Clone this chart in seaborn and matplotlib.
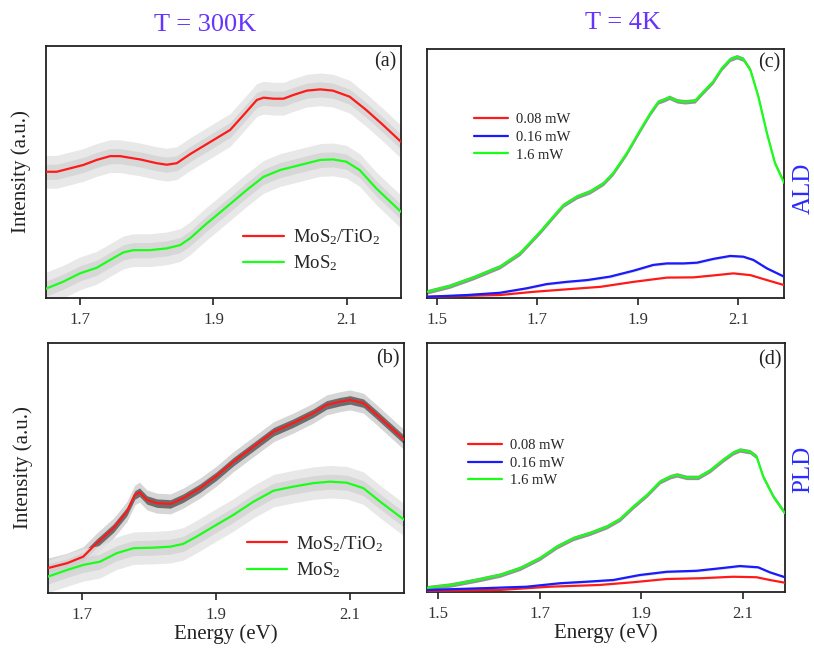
import numpy as np
import pandas as pd
import matplotlib
matplotlib.use("Agg")
import matplotlib.pyplot as plt
import seaborn as sns

# ---------------- data: photoluminescence spectra (energy in eV, intensity in a.u.) ----------------
# (a) T = 300K, ALD
a_tio2_E = [1.649, 1.665, 1.705, 1.725, 1.745, 1.760, 1.790, 1.815, 1.830, 1.845, 1.865, 1.900,
            1.925, 1.945, 1.965, 1.975, 1.990, 2.005, 2.020, 2.040, 2.060, 2.079, 2.104, 2.129,
            2.154, 2.181]
a_tio2_I = [50.1, 50.1, 52.8, 54.8, 56.3, 56.3, 55.0, 53.5, 52.9, 53.5, 57.1, 62.7,
            66.7, 72.6, 78.6, 79.5, 79.1, 79.1, 80.6, 82.3, 82.8, 82.3, 79.9, 74.6,
            68.7, 62.0]
a_mos2_E = [1.649, 1.675, 1.700, 1.725, 1.745, 1.765, 1.780, 1.805, 1.830, 1.850, 1.865, 1.890,
            1.920, 1.950, 1.975, 2.000, 2.030, 2.060, 2.079, 2.099, 2.119, 2.144, 2.181]
a_mos2_I = [3.7, 6.5, 9.8, 12.0, 15.1, 18.1, 19.0, 19.0, 19.7, 21.0, 23.7, 29.6,
            36.2, 42.9, 48.1, 50.8, 52.8, 54.8, 55.0, 54.1, 50.8, 43.5, 34.2]

# (b) T = 300K, PLD
b_tio2_E = [1.649, 1.678, 1.702, 1.722, 1.747, 1.767, 1.779, 1.786, 1.797, 1.812, 1.832, 1.851,
            1.876, 1.901, 1.926, 1.956, 1.986, 2.015, 2.045, 2.065, 2.085, 2.100, 2.120, 2.140,
            2.181]
b_tio2_I = [9.8, 11.8, 14.4, 19.8, 25.8, 32.4, 39.1, 40.2, 37.1, 35.8, 35.5, 37.8,
            41.8, 46.7, 52.4, 58.4, 64.4, 67.8, 71.8, 75.1, 76.4, 77.1, 75.8, 71.1,
            61.1]
b_mos2_E = [1.649, 1.678, 1.702, 1.727, 1.752, 1.777, 1.806, 1.832, 1.851, 1.871, 1.896, 1.926,
            1.956, 1.986, 2.015, 2.045, 2.070, 2.095, 2.120, 2.145, 2.181]
b_mos2_I = [6.4, 9.1, 11.1, 12.4, 15.8, 17.8, 18.0, 18.4, 19.5, 22.4, 26.4, 31.1,
            36.4, 40.8, 42.4, 43.8, 44.4, 44.0, 41.8, 36.4, 29.1]

# (c) T = 4K, ALD, three excitation powers
c_hi_E = [1.481, 1.526, 1.573, 1.626, 1.666, 1.706, 1.732, 1.752, 1.779, 1.805, 1.832, 1.851,
          1.878, 1.905, 1.925, 1.941, 1.951, 1.963, 1.978, 1.994, 2.014, 2.031, 2.050, 2.067,
          2.084, 2.097, 2.110, 2.124, 2.140, 2.157, 2.173, 2.191]
c_hi_I = [2.5, 4.8, 8.2, 12.6, 18.0, 26.6, 32.7, 37.3, 40.7, 42.7, 46.1, 50.1,
          58.1, 67.5, 74.2, 78.8, 79.5, 80.6, 79.2, 78.8, 79.2, 82.9, 86.9, 92.2,
          95.9, 96.9, 95.9, 91.6, 80.8, 66.1, 54.1, 46.3]
c_mid_E = [1.481, 1.560, 1.626, 1.679, 1.719, 1.759, 1.799, 1.845, 1.892, 1.931, 1.958, 1.991,
           2.018, 2.050, 2.084, 2.110, 2.130, 2.157, 2.191]
c_mid_I = [0.5, 1.2, 2.1, 3.9, 5.6, 6.5, 7.2, 8.6, 11.0, 13.3, 13.9, 13.9,
           14.2, 15.7, 16.9, 16.6, 15.3, 11.9, 8.6]
c_lo_E = [1.481, 1.626, 1.693, 1.759, 1.826, 1.892, 1.958, 2.011, 2.057, 2.090, 2.124, 2.157, 2.191]
c_lo_I = [0.5, 1.2, 2.5, 3.5, 4.5, 6.5, 8.2, 8.3, 9.2, 9.9, 9.2, 7.2, 5.2]

# (d) T = 4K, PLD, three excitation powers
d_hi_E = [1.478, 1.524, 1.576, 1.622, 1.661, 1.700, 1.734, 1.766, 1.799, 1.832, 1.858, 1.884,
          1.911, 1.937, 1.957, 1.970, 1.989, 2.012, 2.035, 2.061, 2.081, 2.094, 2.114, 2.127,
          2.140, 2.160, 2.183]
d_hi_I = [1.6, 2.7, 4.7, 6.7, 9.4, 13.4, 18.1, 21.4, 23.5, 26.1, 29.1, 34.1,
          38.8, 44.2, 46.2, 46.9, 45.9, 45.9, 48.6, 52.9, 55.8, 56.9, 56.2, 54.2,
          46.2, 38.2, 31.5]
d_mid_E = [1.478, 1.589, 1.674, 1.740, 1.792, 1.845, 1.897, 1.950, 2.009, 2.055, 2.094, 2.130,
           2.153, 2.183]
d_mid_I = [0.7, 1.4, 2.0, 3.4, 4.0, 4.7, 6.7, 8.0, 8.4, 9.4, 10.3, 9.8, 7.8, 5.8]
d_lo_E = [1.478, 1.622, 1.720, 1.818, 1.884, 1.950, 2.016, 2.081, 2.127, 2.153, 2.183]
d_lo_I = [0.4, 0.7, 2.0, 2.7, 3.8, 5.1, 5.4, 6.0, 5.8, 4.7, 3.6]

sample_labels = [r"MoS$_2$/TiO$_2$", r"MoS$_2$"]
power_labels = ["0.08 mW", "0.16 mW", "1.6 mW"]
energy_ticks = [1.5, 1.7, 1.9, 2.1]

# ---------------- style ----------------
sns.set_style("ticks")
plt.rcParams["font.family"] = ["Liberation Serif", "DejaVu Serif"]
plt.rcParams["mathtext.fontset"] = "custom"
plt.rcParams["mathtext.rm"] = "Liberation Serif"
plt.rcParams["mathtext.it"] = "Liberation Serif"
plt.rcParams["lines.solid_joinstyle"] = "round"
plt.rcParams["lines.solid_capstyle"] = "round"

RED, GREEN, BLUE = "#ff1a1a", "#1aff1a", "#1a1aff"
TITLE_C = "#6633ff"
SIDE_C = "#2b2bff"

fig = plt.figure(figsize=(8.14, 6.5), dpi=100)
axes = {
    "a": fig.add_axes([0.0565, 0.5415, 0.4361, 0.3877]),
    "b": fig.add_axes([0.0586, 0.0882, 0.4381, 0.3846]),
    "c": fig.add_axes([0.5246, 0.5415, 0.4386, 0.3831]),
    "d": fig.add_axes([0.5246, 0.0897, 0.4398, 0.3831]),
}
xlims = {"a": (1.649, 2.181), "b": (1.649, 2.181), "c": (1.481, 2.191), "d": (1.478, 2.183)}


def spectrum(ax, E, I, color, label, bands):
    """Draw a spectrum with a grey scatter ribbon underneath."""
    E = np.asarray(E)
    I = np.asarray(I)
    for half_width, shade, alpha in bands:
        ax.fill_between(E, I - half_width, I + half_width, color=shade,
                        alpha=alpha, lw=0, zorder=1)
    df = pd.DataFrame({"Energy": E, "Intensity": I})
    sns.lineplot(data=df, x="Energy", y="Intensity", color=color, lw=1.6,
                 label=label, ax=ax, sort=False, zorder=3)


light_wide = [(6.5, "#e4e4e4", 0.85), (3.0, "#cccccc", 0.6)]
dark_core = [(4.0, "#cfcfcf", 0.85), (1.7, "#4a4a4a", 0.75)]
thin_dark = [(0.9, "#707070", 0.75)]
faint = [(0.5, "#a0a0a0", 0.4)]

# (a)
spectrum(axes["a"], a_tio2_E, a_tio2_I, RED, sample_labels[0], light_wide)
spectrum(axes["a"], a_mos2_E, a_mos2_I, GREEN, sample_labels[1], light_wide)
# (b)
spectrum(axes["b"], b_tio2_E, b_tio2_I, RED, sample_labels[0], dark_core)
spectrum(axes["b"], b_mos2_E, b_mos2_I, GREEN, sample_labels[1], light_wide)
# (c)
spectrum(axes["c"], c_lo_E, c_lo_I, RED, power_labels[0], [])
spectrum(axes["c"], c_mid_E, c_mid_I, BLUE, power_labels[1], faint)
spectrum(axes["c"], c_hi_E, c_hi_I, GREEN, power_labels[2], thin_dark)
# (d)
spectrum(axes["d"], d_lo_E, d_lo_I, RED, power_labels[0], [])
spectrum(axes["d"], d_mid_E, d_mid_I, BLUE, power_labels[1], faint)
spectrum(axes["d"], d_hi_E, d_hi_I, GREEN, power_labels[2], thin_dark)

letter_pos = {"a": (0.988, 0.937), "b": (0.988, 0.936), "c": (0.99, 0.944), "d": (0.99, 0.93)}
for key, ax in axes.items():
    ax.set_xlim(*xlims[key])
    ax.set_ylim(0, 100)
    ax.set_yticks([])
    ax.set_xticks([t for t in energy_ticks if xlims[key][0] <= t <= xlims[key][1]])
    ax.set_xticklabels([f"{t:.1f}" for t in ax.get_xticks()])
    ax.tick_params(axis="x", direction="out", length=5, width=1.2, labelsize=12,
                   pad=5, colors="#222222", labelcolor="#333333")
    for sp in ax.spines.values():
        sp.set_visible(True)
        sp.set_linewidth(1.3)
        sp.set_color("#222222")
    ax.set_xlabel("")
    ax.set_ylabel("")
    ax.text(*letter_pos[key], f"({key})", transform=ax.transAxes, ha="right",
            va="center", fontsize=14.5, color="#222222")

for key in ("a", "b"):
    axes[key].set_ylabel("Intensity (a.u.)", fontsize=15, color="#222222")
    axes[key].yaxis.set_label_coords(-0.042, 0.5)
for key in ("b", "d"):
    axes[key].set_xlabel("Energy (eV)", fontsize=15, color="#222222", labelpad=1)

# legends
leg_a = axes["a"].legend(loc="center left", bbox_to_anchor=(0.556, 0.19), frameon=False,
                         fontsize=13.5, handlelength=2.15, handletextpad=0.5,
                         labelspacing=0.35, borderpad=0, borderaxespad=0)
leg_b = axes["b"].legend(loc="center left", bbox_to_anchor=(0.558, 0.143), frameon=False,
                         fontsize=13.5, handlelength=2.15, handletextpad=0.5,
                         labelspacing=0.35, borderpad=0, borderaxespad=0)
leg_c = axes["c"].legend(loc="center left", bbox_to_anchor=(0.132, 0.645), frameon=False,
                         fontsize=10.5, handlelength=2.3, handletextpad=0.6,
                         labelspacing=0.3, borderpad=0, borderaxespad=0)
leg_d = axes["d"].legend(loc="center left", bbox_to_anchor=(0.115, 0.516), frameon=False,
                         fontsize=10.5, handlelength=2.3, handletextpad=0.6,
                         labelspacing=0.3, borderpad=0, borderaxespad=0)
for leg in (leg_a, leg_b, leg_c, leg_d):
    for line in leg.get_lines():
        line.set_linewidth(1.6)

# column titles and row tags
fig.text(0.252, 0.962, "T = 300K", ha="center", va="center", fontsize=19, color=TITLE_C)
fig.text(0.765, 0.965, "T = 4K", ha="center", va="center", fontsize=19, color=TITLE_C)
fig.text(0.987, 0.711, "ALD", ha="center", va="center", rotation=90, fontsize=18, color=SIDE_C)
fig.text(0.987, 0.278, "PLD", ha="center", va="center", rotation=90, fontsize=18, color=SIDE_C)

fig.savefig("out.png", dpi=100)
